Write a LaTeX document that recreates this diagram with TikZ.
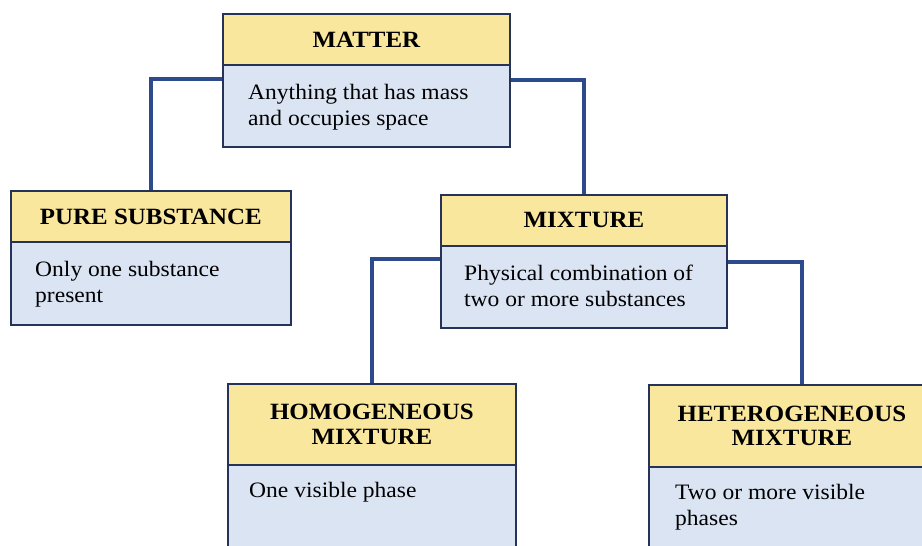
\documentclass[tikz,border=0pt]{standalone}
\usepackage{fontspec}
\setmainfont[FakeStretch=1.07]{Liberation Serif}
\usetikzlibrary{calc}
\definecolor{hdr}{RGB}{250,231,158}
\definecolor{bdy}{RGB}{219,228,243}
\definecolor{edgec}{RGB}{38,50,88}
\definecolor{linkc}{RGB}{45,75,140}
\tikzset{
  hbox/.style={draw=edgec, line width=1.8pt, fill=hdr, anchor=north west, inner sep=0pt,
    align=center, text=black, font=\fontsize{23.3}{24.5}\selectfont\bfseries},
  bbox/.style={draw=edgec, line width=1.8pt, fill=bdy, anchor=north west, inner sep=0pt},
  btext/.style={anchor=north west, inner sep=0pt, align=left, text=black,
    font=\fontsize{22}{26}\selectfont},
  link/.style={draw=linkc, line width=3.5pt},
}
\begin{document}
\begin{tikzpicture}[x=1pt,y=-1pt]
\useasboundingbox (0,0) rectangle (922,546);
\clip (0,0) rectangle (922,546);
\fill[white] (0,0) rectangle (922,546);

% MATTER
\node[bbox, minimum width=287pt, minimum height=82pt] (mb) at (222,64) {};
\node[hbox, minimum width=287pt, minimum height=51pt] (mh) at (222,13) {MATTER};
\node[btext] (mt) at ($(mb.north west)+(26,20.5)$) {Anything that has mass\\and occupies space};

% PURE SUBSTANCE
\node[bbox, minimum width=280pt, minimum height=83pt] (pb) at (10,241) {};
\node[hbox, minimum width=280pt, minimum height=51pt] (ph) at (10,190) {PURE SUBSTANCE};
\node[btext] (pt) at ($(pb.north west)+(25,20.5)$) {Only one substance\\present};

% MIXTURE
\node[bbox, minimum width=286pt, minimum height=82pt] (xb) at (440,245) {};
\node[hbox, minimum width=286pt, minimum height=51pt] (xh) at (440,194) {MIXTURE};
\node[btext] (xt) at ($(xb.north west)+(24,19.5)$) {Physical combination of\\two or more substances};

% HOMOGENEOUS
\node[bbox, minimum width=288pt, minimum height=100pt] (ob) at (227,464) {};
\node[hbox, minimum width=288pt, minimum height=81pt] (oh) at (227,383) {HOMOGENEOUS\\MIXTURE};
\node[btext] (ot) at ($(ob.north west)+(22,18.5)$) {One visible phase};

% HETEROGENEOUS
\node[bbox, minimum width=286pt, minimum height=100pt] (eb) at (648,466) {};
\node[hbox, minimum width=286pt, minimum height=82pt] (eh) at (648,384) {HETEROGENEOUS\\MIXTURE};
\node[btext] (et) at ($(eb.north west)+(27,18)$) {Two or more visible\\phases};

% connectors
\draw[link] ([yshift=-15pt]mb.north west) -| (ph.north);
\draw[link] ([yshift=-16pt]mb.north east) -| (xh.north);
\draw[link] ([yshift=-14pt]xb.north west) -| (oh.north);
\draw[link] ([yshift=-17pt]xb.north east) -| ([xshift=10pt]eh.north);
\end{tikzpicture}
\end{document}
